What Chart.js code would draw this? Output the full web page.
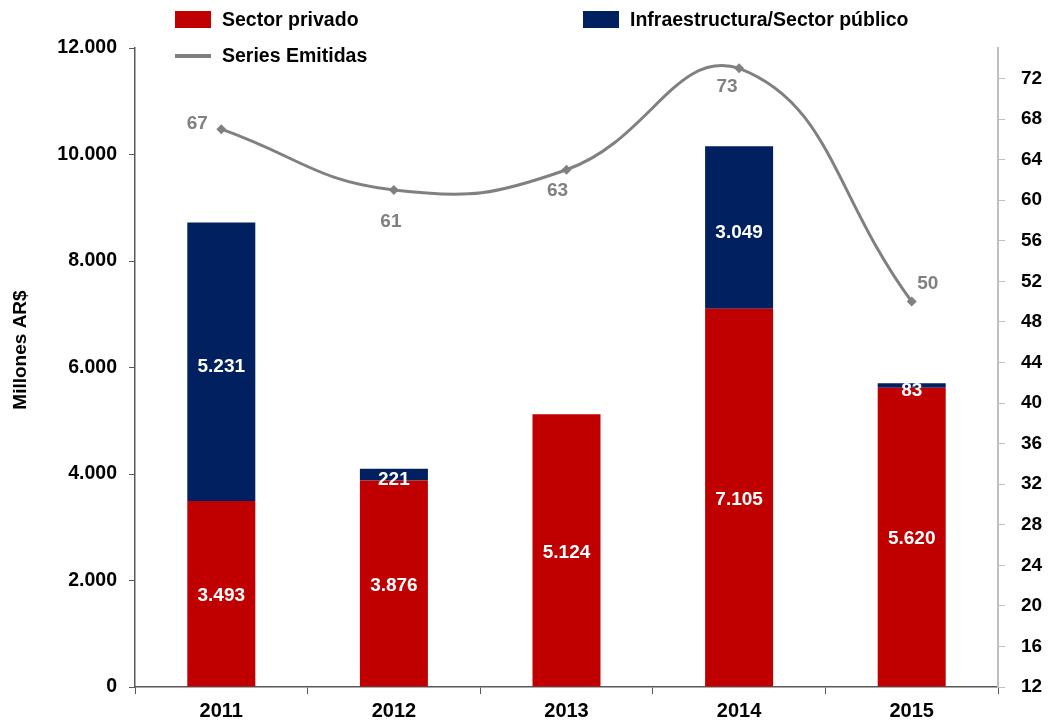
<!DOCTYPE html>
<html>
<head>
<meta charset="utf-8">
<script src="https://cdn.jsdelivr.net/npm/chart.js@4.4.1/dist/chart.umd.min.js"></script>
<style>
  html, body { margin: 0; padding: 0; background: #ffffff; }
  #wrap { width: 1054px; height: 722px; position: relative; }
</style>
</head>
<body>
<div id="wrap"><canvas id="chart" width="1054" height="722"></canvas></div>
<script>
// Emisiones por año (millones AR$) y cantidad de series emitidas
const years = ['2011', '2012', '2013', '2014', '2015'];
const sectorPrivado = [3493, 3876, 5124, 7105, 5620];
const sectorPublico = [5231, 221, 0, 3049, 83];
const seriesEmitidas = [67, 61, 63, 73, 50];
const leftTicks = [0, 2000, 4000, 6000, 8000, 10000, 12000];
const rightTicks = [12, 16, 20, 24, 28, 32, 36, 40, 44, 48, 52, 56, 60, 64, 68, 72];
const yAxisTitle = 'Millones AR$';

// Where each "Series Emitidas" label sits relative to its point (px)
const seriesLabelOffsets = [[-24, -5], [-3, 32], [-9, 21], [-12, 18], [16, -18]];

const RED = '#C00000';
const NAVY = '#002060';
const GREY = '#808080';
const FONT = '"Liberation Sans", Arial, sans-serif';

const fmt = v => String(v).replace(/\B(?=(\d{3})+(?!\d))/g, '.');

// White value labels inside each bar segment, grey labels by the line points
const valueLabels = {
  id: 'valueLabels',
  afterDatasetsDraw(chart) {
    const ctx = chart.ctx;
    ctx.save();
    ctx.textAlign = 'center';
    ctx.textBaseline = 'middle';
    ctx.font = 'bold 19px ' + FONT;
    chart.data.datasets.forEach((ds, di) => {
      const meta = chart.getDatasetMeta(di);
      if (meta.hidden) return;
      meta.data.forEach((el, i) => {
        const v = ds.data[i];
        if (!v) return;
        if (ds.type === 'line') {
          const off = seriesLabelOffsets[i];
          ctx.fillStyle = GREY;
          ctx.fillText(fmt(v), el.x + off[0], el.y + off[1]);
        } else {
          ctx.fillStyle = '#ffffff';
          const shift = di === 0 ? 2 : 5;
          ctx.fillText(fmt(v), el.x, (el.y + el.base) / 2 + shift);
        }
      });
    });
    ctx.restore();
  }
};

// Legend above the plot in two columns, plus the rotated left-axis title
const topLegend = {
  id: 'topLegend',
  afterDraw(chart) {
    const ctx = chart.ctx;
    const ds = chart.data.datasets;
    ctx.save();
    ctx.font = 'bold 19.5px ' + FONT;
    ctx.textBaseline = 'middle';
    ctx.textAlign = 'left';
    const items = [
      { d: ds[0], x: 175, y: 20 },
      { d: ds[1], x: 583, y: 20 },
      { d: ds[2], x: 175, y: 56 }
    ];
    items.forEach(it => {
      if (it.d.type === 'line') {
        ctx.strokeStyle = it.d.borderColor;
        ctx.lineWidth = 4;
        ctx.beginPath();
        ctx.moveTo(it.x, it.y);
        ctx.lineTo(it.x + 36, it.y);
        ctx.stroke();
      } else {
        ctx.fillStyle = it.d.backgroundColor;
        ctx.fillRect(it.x, it.y - 9, 36, 17);
      }
      ctx.fillStyle = '#000000';
      ctx.fillText(it.d.label, it.x + 47, it.y + 1);
    });

    ctx.translate(21, 350);
    ctx.rotate(-Math.PI / 2);
    ctx.textAlign = 'center';
    ctx.font = 'bold 19px ' + FONT;
    ctx.fillStyle = '#000000';
    ctx.fillText(yAxisTitle, 0, 0);
    ctx.restore();
  }
};

new Chart(document.getElementById('chart'), {
  data: {
    labels: years,
    datasets: [
      {
        type: 'bar', label: 'Sector privado', data: sectorPrivado,
        backgroundColor: RED, yAxisID: 'y', stack: 's', order: 2,
        categoryPercentage: 1, barPercentage: 0.394
      },
      {
        type: 'bar', label: 'Infraestructura/Sector público', data: sectorPublico,
        backgroundColor: NAVY, yAxisID: 'y', stack: 's', order: 2,
        categoryPercentage: 1, barPercentage: 0.394
      },
      {
        type: 'line', label: 'Series Emitidas', data: seriesEmitidas,
        borderColor: GREY, backgroundColor: GREY, borderWidth: 3,
        tension: 0.45, yAxisID: 'y1', order: 0,
        pointStyle: 'rectRot', pointRadius: 5, pointBackgroundColor: GREY,
        pointBorderColor: GREY, pointBorderWidth: 0
      }
    ]
  },
  options: {
    responsive: false,
    devicePixelRatio: 1,
    animation: false,
    layout: { padding: { top: 48, left: 0, right: 0, bottom: 0 } },
    plugins: { legend: { display: false }, tooltip: { enabled: false } },
    scales: {
      x: {
        stacked: true,
        grid: { offset: true, drawOnChartArea: false, drawTicks: true, tickLength: 7, color: '#595959' },
        border: { color: '#595959', width: 1.5 },
        ticks: { color: '#000000', font: { family: FONT, size: 20, weight: 'bold' }, padding: 5 },
        afterFit(s) { s.height = 35; }
      },
      y: {
        stacked: true,
        position: 'left',
        min: 0, max: 12000,
        afterBuildTicks(s) { s.ticks = leftTicks.map(v => ({ value: v })); },
        ticks: {
          color: '#000000', font: { family: FONT, size: 19.5, weight: 'bold' }, padding: 12,
          callback: v => fmt(v)
        },
        grid: { drawOnChartArea: false, drawTicks: true, tickLength: 6, color: '#595959' },
        border: { color: '#595959', width: 1.5 },
        afterFit(s) { s.width = 135; }
      },
      y1: {
        position: 'right',
        min: 12, max: 75,
        afterBuildTicks(s) { s.ticks = rightTicks.map(v => ({ value: v })); },
        ticks: { color: '#000000', font: { family: FONT, size: 19, weight: 'bold' }, padding: 16 },
        grid: { drawOnChartArea: false, drawTicks: true, tickLength: 7, color: '#BFBFBF' },
        border: { color: '#BFBFBF', width: 2 },
        afterFit(s) { s.width = 56; }
      }
    }
  },
  plugins: [valueLabels, topLegend]
});
</script>
</body>
</html>
